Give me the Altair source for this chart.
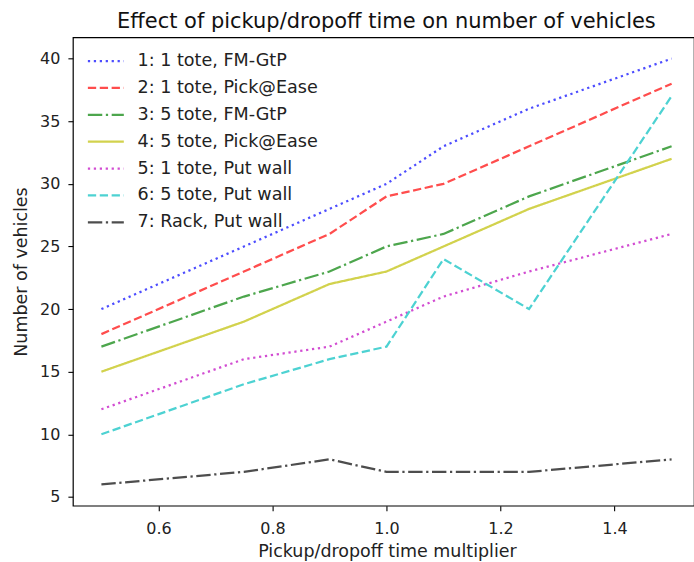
import altair as alt
import pandas as pd

x_vals = [0.5, 0.75, 0.9, 1.0, 1.1, 1.25, 1.5]
series_names = [
    "1: 1 tote, FM-GtP",
    "2: 1 tote, Pick@Ease",
    "3: 5 tote, FM-GtP",
    "4: 5 tote, Pick@Ease",
    "5: 1 tote, Put wall",
    "6: 5 tote, Put wall",
    "7: Rack, Put wall",
]
s1 = [20, 25, 28, 30, 33, 36, 40]
s2 = [18, 23, 26, 29, 30, 33, 38]
s3 = [17, 21, 23, 25, 26, 29, 33]
s4 = [15, 19, 22, 23, 25, 28, 32]
s5 = [12, 16, 17, 19, 21, 23, 26]
s6 = [10, 14, 16, 17, 24, 20, 37]
s7 = [6, 7, 8, 7, 7, 7, 8]
all_series = [s1, s2, s3, s4, s5, s6, s7]

colors = ["#4d4dff", "#ff4d4d", "#4da64d", "#d2d24d", "#d24dd2", "#4dd2d2", "#4d4d4d"]
dotted = [2.25, 3.7]
dashed = [8.3, 3.6]
dashdot = [14.4, 3.6, 2.25, 3.6]
solid = [1, 0]
dashes = [dotted, dashed, dashdot, solid, dotted, dashed, dashdot]

rows = []
for name, vals in zip(series_names, all_series):
    for xv, yv in zip(x_vals, vals):
        rows.append({"x": xv, "y": yv, "series": name})
df = pd.DataFrame(rows)

FONT = "DejaVu Sans"

leg = alt.Legend(
    title=None,
    orient="none",
    legendX=24.2,
    legendY=15,
    symbolType="M-4,0H4",
    symbolSize=81,
    symbolStrokeWidth=2.25,
    labelFontSize=17.6,
    labelFont=FONT,
    labelColor="#222222",
    labelOffset=22.9,
    labelLimit=400,
    rowPadding=7.9,
    padding=0,
)

chart = (
    alt.Chart(df)
    .mark_line(strokeWidth=2.25, strokeCap="butt", clip=True)
    .encode(
        x=alt.X(
            "x:Q",
            scale=alt.Scale(domain=[0.45, 1.5393], nice=False, zero=False),
            axis=alt.Axis(
                values=[0.6, 0.8, 1.0, 1.2, 1.4],
                format=".1f",
                title="Pickup/dropoff time multiplier",
                titleX=314.5,
                titleY=50.7,
                titleBaseline="alphabetic",
            ),
        ),
        y=alt.Y(
            "y:Q",
            scale=alt.Scale(domain=[4.3, 41.7], nice=False, zero=False),
            axis=alt.Axis(
                values=[5, 10, 15, 20, 25, 30, 35, 40],
                title="Number of vehicles",
                titleX=-46.3,
                titleBaseline="alphabetic",
            ),
        ),
        color=alt.Color("series:N", sort=series_names,
                        scale=alt.Scale(domain=series_names, range=colors), legend=leg),
        strokeDash=alt.StrokeDash("series:N", sort=series_names,
                                  scale=alt.Scale(domain=series_names, range=dashes), legend=leg),
    )
    .properties(
        width=622,
        height=469,
        autosize=alt.AutoSizeParams(type="none"),
        padding={"left": 73, "top": 37, "right": 0, "bottom": 56},
        title=alt.TitleParams(
            "Effect of pickup/dropoff time on number of vehicles",
            fontSize=21, font=FONT, fontWeight="normal", color="#111111",
            anchor="middle", dx=3, offset=5,
        ),
    )
    .configure(font=FONT)
    .configure_view(stroke="black", strokeWidth=1.2)
    .configure_axis(
        grid=False,
        domain=False,
        tickColor="black",
        tickSize=5,
        tickWidth=1.1,
        labelFont=FONT,
        labelFontSize=16,
        labelColor="#222222",
        titleFont=FONT,
        titleFontSize=17.5,
        titleFontWeight="normal",
        titleColor="#222222",
    )
    .configure_axisX(labelPadding=10)
    .configure_axisY(labelPadding=8)
)

chart.save("out.html", embed_options={"renderer": "svg", "actions": False})
